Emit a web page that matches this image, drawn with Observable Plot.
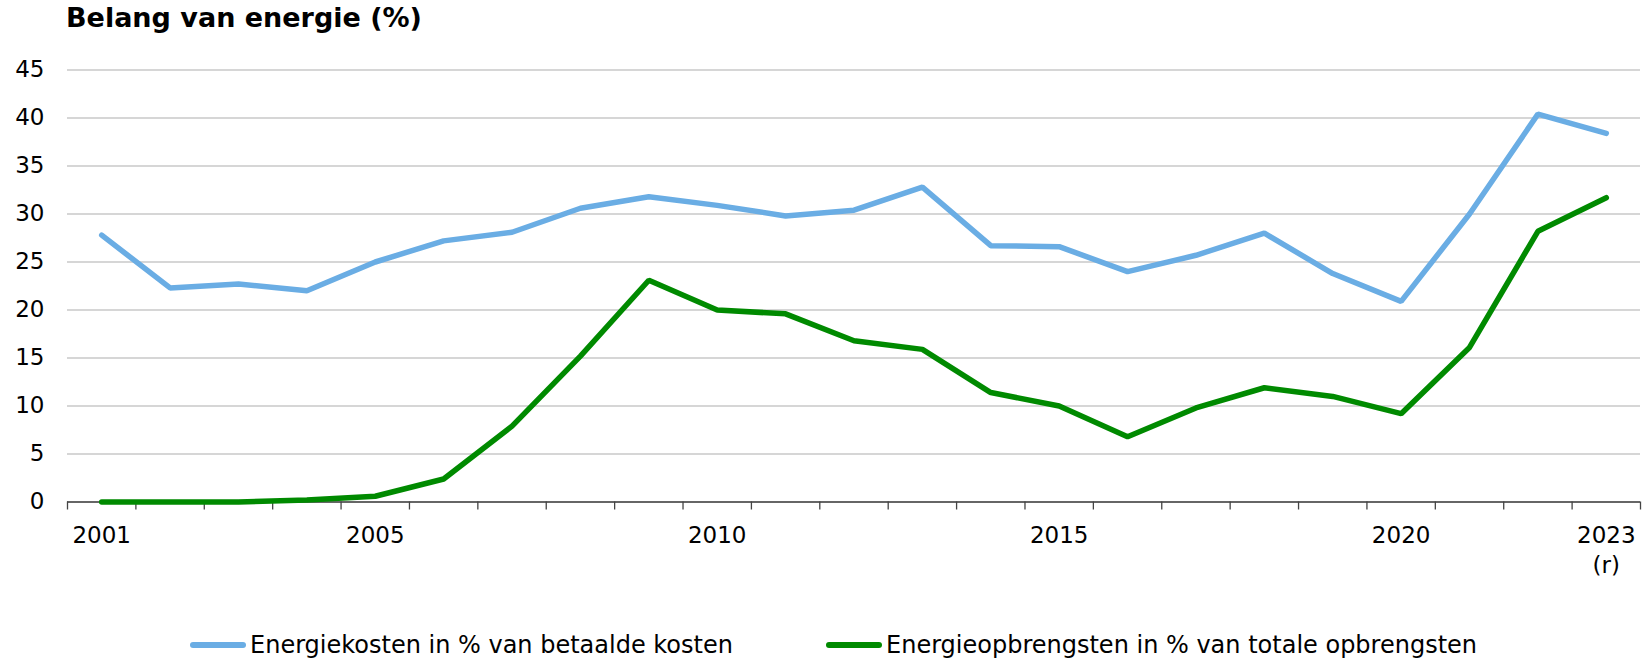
<!DOCTYPE html>
<html>
<head>
<meta charset="utf-8">
<script src="https://cdn.jsdelivr.net/npm/d3@7"></script>
<script src="https://cdn.jsdelivr.net/npm/@observablehq/plot@0.6"></script>
<style>
  html, body { margin: 0; padding: 0; background: #fff; }
  #wrap { position: relative; width: 1652px; height: 659px; font-family: "DejaVu Sans", Verdana, sans-serif; color: #000; }
  #title { position: absolute; left: 66px; top: 4px; font-size: 27px; line-height: 27px; font-weight: bold; white-space: nowrap; }
  #chart { position: absolute; left: 0; top: 0; }
  .leg { position: absolute; top: 633px; font-size: 24px; line-height: 24px; white-space: nowrap; }
  .sw { position: absolute; top: 642px; width: 56px; height: 6px; border-radius: 3px; }
</style>
</head>
<body>
<div id="wrap">
  <div id="chart"></div>
  <div id="title">Belang van energie (%)</div>
  <div class="sw" style="left:190px; background:#6aade4;"></div>
  <div class="leg" style="left:250px;">Energiekosten in % van betaalde kosten</div>
  <div class="sw" style="left:826px; background:#008a00;"></div>
  <div class="leg" style="left:886px;">Energieopbrengsten in % van totale opbrengsten</div>
</div>
<script>
// Data
const years = [2001,2002,2003,2004,2005,2006,2007,2008,2009,2010,2011,2012,2013,2014,2015,2016,2017,2018,2019,2020,2021,2022,2023];
const energiekosten = [27.8,22.3,22.7,22.0,25.0,27.2,28.1,30.6,31.8,30.9,29.8,30.4,32.8,26.7,26.6,24.0,25.7,28.0,23.8,20.9,30.0,40.4,38.4];
const energieopbrengsten = [0.0,0.0,0.0,0.2,0.6,2.4,7.9,15.2,23.1,20.0,19.6,16.8,15.9,11.4,10.0,6.8,9.8,11.9,11.0,9.2,16.1,28.2,31.7];
const seriesNames = ["Energiekosten in % van betaalde kosten", "Energieopbrengsten in % van totale opbrengsten"];
const seriesColors = ["#6aade4", "#008a00"];
const yTicks = [0,5,10,15,20,25,30,35,40,45];
const xLabelYears = [2001,2005,2010,2015,2020,2023];
const xLabelTexts = ["2001","2005","2010","2015","2020","2023\n(r)"];
const bandEdges = d3.range(2000.5, 2024, 1);

const rows = [];
years.forEach((yr, i) => {
  rows.push({year: yr, value: energiekosten[i], series: seriesNames[0]});
  rows.push({year: yr, value: energieopbrengsten[i], series: seriesNames[1]});
});

const W = 1652, H = 600;
const chart = Plot.plot({
  width: W,
  height: H,
  marginTop: 69.5,
  marginBottom: H - 501.5,
  marginLeft: 67,
  marginRight: 12,
  style: {fontFamily: "DejaVu Sans, Verdana, sans-serif", fontSize: "23px", color: "#000", background: "transparent"},
  x: {type: "linear", domain: [2000.5, 2023.5], axis: null, label: null},
  y: {domain: [0, 45], axis: null, label: null},
  color: {domain: seriesNames, range: seriesColors},
  marks: [
    Plot.ruleY(yTicks.filter(d => d > 0), {stroke: "#c8c8c8", strokeWidth: 1.3}),
    Plot.ruleY([0], {stroke: "#333", strokeWidth: 1.5}),
    Plot.axisY(yTicks, {tickSize: 0, tickPadding: 23, fontSize: 23, fill: "#000", label: null}),
    Plot.axisX(bandEdges, {tickSize: 8, tickFormat: () => "", stroke: "#444", strokeWidth: 1.3, label: null}),
    Plot.text(xLabelYears, {
      x: d => d, y: () => 0,
      text: (d, i) => xLabelTexts[i],
      lineAnchor: "top", lineHeight: 1.3, dy: 19.6,
      fontSize: 23, fill: "#000"
    }),
    Plot.line(rows, {x: "year", y: "value", stroke: "series", z: "series", strokeWidth: 5.5, strokeLinecap: "round", strokeLinejoin: "miter"})
  ]
});
document.getElementById("chart").appendChild(chart);
</script>
</body>
</html>
